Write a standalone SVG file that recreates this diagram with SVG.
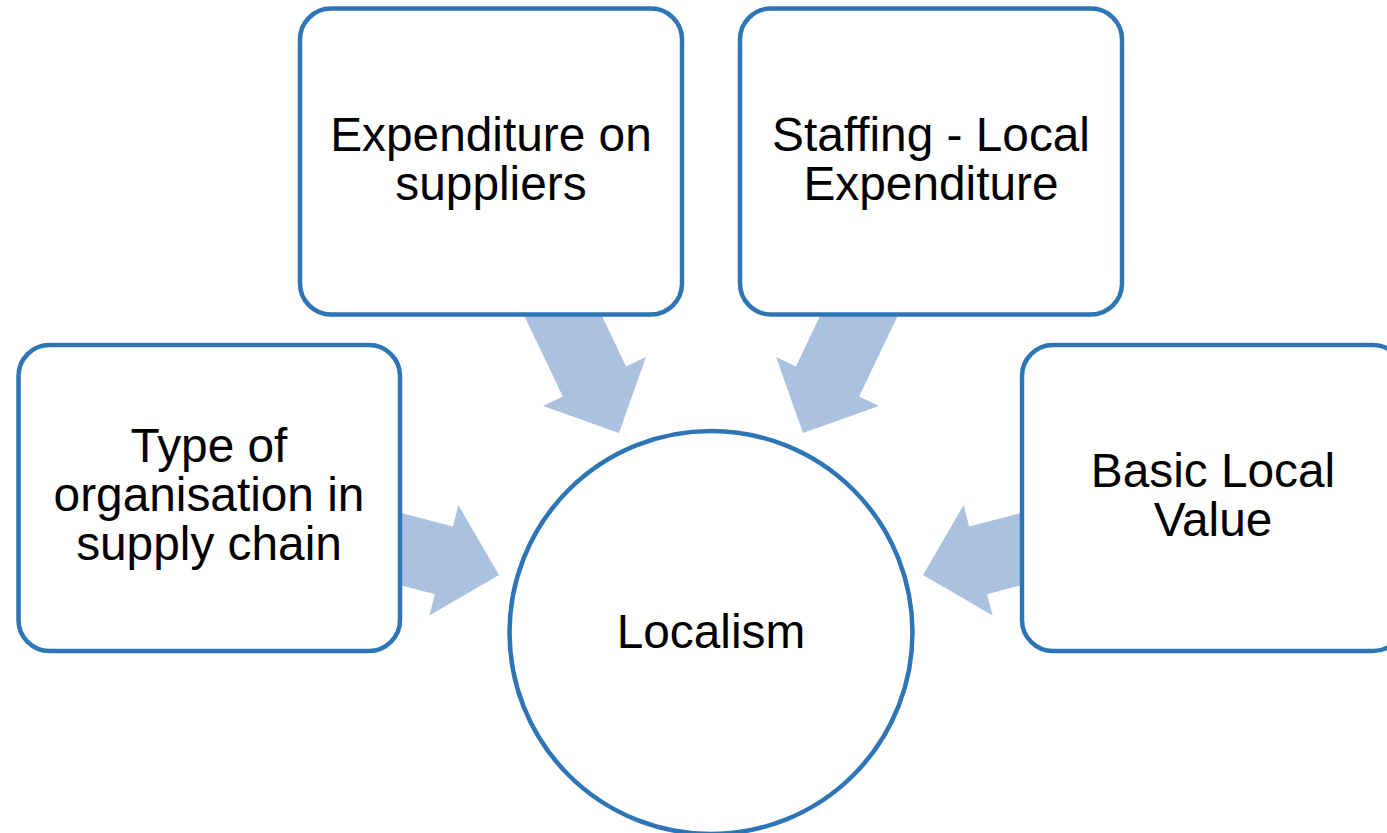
<svg xmlns="http://www.w3.org/2000/svg" width="1387" height="833" viewBox="0 0 1387 833">
  <defs>
    <style>
      .box { fill: #ffffff; stroke: #2E75B6; stroke-width: 4.5; }
      .hub { fill: #ffffff; stroke: #2E75B6; stroke-width: 4.5; }
      .label { font-family: "Liberation Sans", Arial, sans-serif; font-size: 47.8px; fill: #000000; text-anchor: middle; }
      .arrow { fill: #ABC1E0; }
    </style>
    <!-- block arrow, tip at origin, pointing along +x -->
    <polygon id="blockArrow" class="arrow" points="0,0 -57,-57 -57,-35 -160,-35 -160,35 -57,35 -57,57"/>
  </defs>

  <rect width="1387" height="833" fill="#ffffff"/>

  <!-- arrows sit beneath the boxes so their tails are hidden -->
  <g id="connectors">
    <use href="#blockArrow" transform="translate(619,433) rotate(64.5)"/>
    <use href="#blockArrow" transform="translate(803,433) rotate(115.5)"/>
    <use href="#blockArrow" transform="translate(499,575) rotate(14.8)"/>
    <use href="#blockArrow" transform="translate(923,575) rotate(165.2)"/>
  </g>

  <g id="node-expenditure">
    <rect class="box" x="300" y="8.5" width="382" height="306" rx="31" ry="31"/>
    <text class="label" x="491" y="151">Expenditure on</text>
    <text class="label" x="491" y="199.5">suppliers</text>
  </g>

  <g id="node-staffing">
    <rect class="box" x="740" y="8.5" width="382" height="306" rx="31" ry="31"/>
    <text class="label" x="931" y="151">Staffing - Local</text>
    <text class="label" x="931" y="199.5">Expenditure</text>
  </g>

  <g id="node-organisation">
    <rect class="box" x="18.5" y="345" width="381.5" height="306" rx="31" ry="31"/>
    <text class="label" x="209" y="462">Type of</text>
    <text class="label" x="209" y="510.5">organisation in</text>
    <text class="label" x="209" y="560">supply chain</text>
  </g>

  <g id="node-basic">
    <rect class="box" x="1022" y="345" width="382" height="306" rx="31" ry="31"/>
    <text class="label" x="1213" y="487">Basic Local</text>
    <text class="label" x="1213" y="535.5">Value</text>
  </g>

  <g id="node-localism">
    <circle class="hub" cx="711" cy="632.5" r="201.5"/>
    <text class="label" x="711" y="648">Localism</text>
  </g>
</svg>
